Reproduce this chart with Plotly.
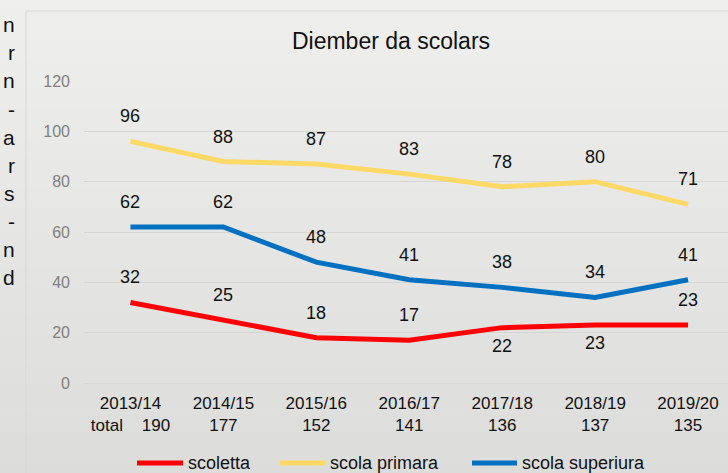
import plotly.graph_objects as go

# ---------------- data ----------------
seasons = ["2013/14", "2014/15", "2015/16", "2016/17", "2017/18", "2018/19", "2019/20"]
totals = [190, 177, 152, 141, 136, 137, 135]
scoletta = [32, 25, 18, 17, 22, 23, 23]
scola_primara = [96, 88, 87, 83, 78, 80, 71]
scola_superiura = [62, 62, 48, 41, 38, 34, 41]
series_names = ["scoletta", "scola primara", "scola superiura"]
y_ticks = [0, 20, 40, 60, 80, 100, 120]
title_text = "Diember da scolars"
total_word = "total"
margin_letters = ["n", "r", "n", "-", "a", "r", "s", "-", "n", "d"]

# ---------------- style ----------------
series_colors = ["#FF0000", "#FFD966", "#0070C0"]
scoletta_label_side = ["above", "above", "above", "above", "below", "below", "above"]
FONT = "Liberation Sans, Arial, sans-serif"

W, H = 728, 473
L, R, T, B = 84, 0, 81, 90
pw, ph = W - L - R, H - T - B


def px(x):
    return (x - L) / pw


def py(y):
    return (H - B - y) / ph


series_values = [scoletta, scola_primara, scola_superiura]

fig = go.Figure()
for name, vals, col in zip(series_names, series_values, series_colors):
    fig.add_trace(go.Scatter(
        x=seasons, y=vals, name=name, mode="lines",
        line=dict(color=col, width=5),
        hoverinfo="skip", showlegend=False,
    ))

# tick labels
tick_text = []
for i, (s, t) in enumerate(zip(seasons, totals)):
    if i == 0:
        tick_text.append(f"{s}<br>{total_word}\u00a0\u00a0\u00a0\u00a0{t}")
    else:
        tick_text.append(f"{s}<br>{t}")

annotations = []
# data labels
for k, vals in enumerate(series_values):
    for i, v in enumerate(vals):
        side = scoletta_label_side[i] if k == 0 else "above"
        annotations.append(dict(
            x=seasons[i], y=v, xref="x", yref="y", text=str(v), showarrow=False,
            xanchor="center", yanchor="middle",
            yshift=25 if side == "above" else -18,
            font=dict(family=FONT, size=18, color="#111111"),
        ))

# cut-off letters on the left margin
letter_y = [24, 52, 80, 109, 137, 165, 193, 221, 249, 277]
for ch, yy in zip(margin_letters, letter_y):
    annotations.append(dict(
        x=px(17), y=py(yy), xref="paper", yref="paper", text=ch, showarrow=False,
        xanchor="right", yanchor="middle",
        font=dict(family=FONT, size=21, color="#111111"),
    ))

# background gradient + chart box
shapes = []
N = 48
c0 = (239, 239, 237)
c1 = (220, 220, 218)
for k in range(N):
    f = (k + 0.5) / N
    c = tuple(int(round(a + (b - a) * f)) for a, b in zip(c0, c1))
    shapes.append(dict(
        type="rect", xref="paper", yref="paper",
        x0=px(-5), x1=px(W + 5), y0=py((k + 1) * H / N + 0.6), y1=py(k * H / N),
        fillcolor=f"rgb{c}", line=dict(width=0), layer="below",
    ))
shapes.append(dict(
    type="rect", xref="paper", yref="paper",
    x0=px(26), x1=px(W + 20), y0=py(H + 20), y1=py(11),
    fillcolor="rgba(0,0,0,0)", line=dict(color="#d6d6d4", width=1), layer="below",
))

# custom legend
legend_line_x = [(137, 183), (280, 325), (472, 517)]
legend_text_x = [186, 328, 520]
legend_y = 463
for name, col, (a, b), tx in zip(series_names, series_colors, legend_line_x, legend_text_x):
    shapes.append(dict(
        type="line", xref="paper", yref="paper",
        x0=px(a), x1=px(b), y0=py(legend_y), y1=py(legend_y),
        line=dict(color=col, width=5), layer="above",
    ))
    annotations.append(dict(
        x=px(tx), y=py(legend_y), xref="paper", yref="paper", text=name, showarrow=False,
        xanchor="left", yanchor="middle",
        font=dict(family=FONT, size=18, color="#111111"),
    ))

fig.update_layout(
    width=W, height=H,
    margin=dict(l=L, r=R, t=T, b=B, pad=0),
    paper_bgcolor="#ebebe9",
    plot_bgcolor="rgba(0,0,0,0)",
    title=dict(
        text=title_text, x=px(391), xref="paper", xanchor="center",
        y=1 - 41 / H, yref="container", yanchor="middle",
        font=dict(family=FONT, size=23, color="#111111"),
    ),
    xaxis=dict(
        type="category", categoryorder="array", categoryarray=seasons,
        range=[-0.5, 6.43], tickvals=seasons, ticktext=tick_text,
        showgrid=False, zeroline=False, showline=False, ticks="",
        tickfont=dict(family=FONT, size=17, color="#111111"),
        ticklabelstandoff=8,
    ),
    yaxis=dict(
        range=[0, 120], tickvals=y_ticks, showgrid=True, gridcolor="#d6d6d4", gridwidth=1,
        zeroline=True, zerolinecolor="#d6d6d4", zerolinewidth=1, showline=False, ticks="",
        tickfont=dict(family=FONT, size=16, color="#808080"),
        ticklabelstandoff=13,
    ),
    annotations=annotations,
    shapes=shapes,
    showlegend=False,
)

fig.write_html("out.html", config={"displayModeBar": False})

# remove default page margin so the figure sits at the window's top-left corner
with open("out.html", "r", encoding="utf-8") as fh:
    html = fh.read()
html = html.replace(
    "<head>",
    "<head><style>html,body{margin:0;padding:0;overflow:hidden;background:#ebebe9;}</style>",
    1,
)
with open("out.html", "w", encoding="utf-8") as fh:
    fh.write(html)
